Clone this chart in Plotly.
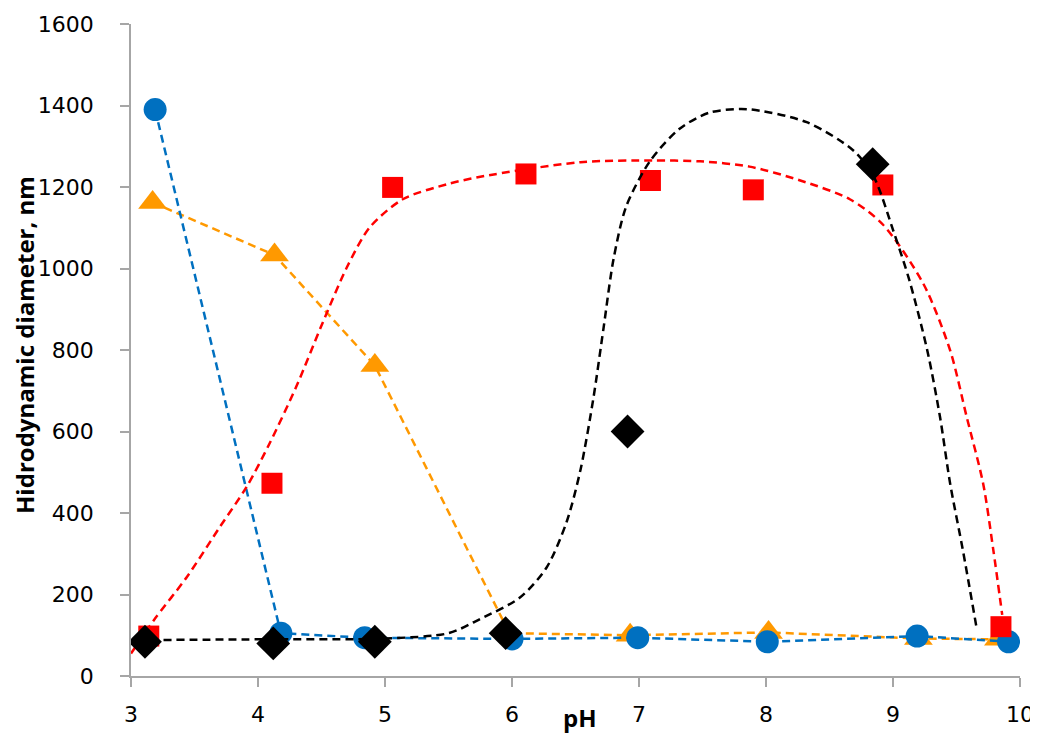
import plotly.graph_objects as go

# ---- data ----
blue_x = [3.19, 4.18, 4.84, 6.00, 6.99, 8.01, 9.19, 9.91]
blue_y = [1390, 105, 94, 91, 94, 84, 98, 84]

orange_x = [3.17, 4.13, 4.92, 5.98, 6.93, 8.02, 9.20, 9.83]
orange_y = [1162, 1033, 762, 105, 100, 107, 92, 90]

red_x = [3.14, 4.11, 5.06, 6.11, 7.09, 7.90, 8.92, 9.85]
red_y = [98, 473, 1199, 1232, 1216, 1193, 1205, 121]

black_x = [3.11, 4.12, 4.92, 5.95, 6.91, 8.84]
black_y = [84, 80, 84, 105, 600, 1256]

# trend curves
red_fit_x = [3.0, 3.18, 3.44, 3.70, 3.91, 4.09, 4.30, 4.50, 4.70, 4.88, 5.14, 5.49,
             5.75, 6.54, 7.11, 7.48, 7.87, 8.27, 8.66, 8.92, 9.24, 9.45, 9.58, 9.71,
             9.79, 9.86]
red_fit_y = [55, 137, 243, 366, 464, 570, 709, 860, 1003, 1101, 1170, 1207,
             1225, 1261, 1265, 1263, 1250, 1216, 1170, 1108, 962, 799, 636, 472,
             309, 150]

black_fit_x = [3.05, 4.0, 5.0, 5.5, 5.75, 6.06, 6.27, 6.43, 6.54, 6.64, 6.72, 6.80,
               6.90, 7.09, 7.32, 7.55, 7.85, 8.32, 8.69, 8.85, 9.0, 9.13, 9.27,
               9.37, 9.45, 9.55, 9.66]
black_fit_y = [88, 90, 92, 105, 140, 192, 265, 378, 507, 680, 852, 1024,
               1153, 1265, 1343, 1382, 1391, 1359, 1289, 1224, 1095, 970, 799,
               636, 472, 309, 115]

x_ticks = [3, 4, 5, 6, 7, 8, 9, 10]
y_ticks = [0, 200, 400, 600, 800, 1000, 1200, 1400, 1600]

BLUE = "#0070C0"
ORANGE = "#FF9900"
RED = "#FF0000"
BLACK = "#000000"
DASH = "8px,5px"

fig = go.Figure()

fig.add_trace(go.Scatter(x=orange_x, y=orange_y, mode="lines+markers",
                         line=dict(color=ORANGE, width=2.5, dash=DASH),
                         marker=dict(symbol="triangle-up", size=25, color=ORANGE)))
fig.add_trace(go.Scatter(x=blue_x, y=blue_y, mode="lines+markers",
                         line=dict(color=BLUE, width=2.5, dash=DASH),
                         marker=dict(symbol="circle", size=23, color=BLUE)))
fig.add_trace(go.Scatter(x=red_fit_x, y=red_fit_y, mode="lines",
                         line=dict(color=RED, width=2.5, dash=DASH, shape="spline", smoothing=0.8)))
fig.add_trace(go.Scatter(x=red_x, y=red_y, mode="markers",
                         marker=dict(symbol="square", size=21, color=RED)))
fig.add_trace(go.Scatter(x=black_fit_x, y=black_fit_y, mode="lines",
                         line=dict(color=BLACK, width=2.5, dash=DASH, shape="spline", smoothing=0.8)))
fig.add_trace(go.Scatter(x=black_x, y=black_y, mode="markers",
                         marker=dict(symbol="diamond", size=26, color=BLACK)))

axis_col = "#A6A6A6"
tick_font = dict(family="'DejaVu Sans', sans-serif", size=22, color="black")
title_font = dict(family="'Open Sans', sans-serif", size=24, color="black")

# page body has an 8px margin; size the figure so the plot lands where the reference has it
fig.update_layout(
    width=1030, height=727,
    margin=dict(l=123, r=18, t=16, b=59),
    plot_bgcolor="white", paper_bgcolor="white",
    showlegend=False,
    xaxis=dict(range=[3, 10], tickvals=x_ticks, ticktext=[str(v) for v in x_ticks],
               showgrid=False, zeroline=False, showline=True, linecolor=axis_col,
               linewidth=1.5, ticks="outside", ticklen=9, tickcolor=axis_col,
               tickwidth=1.5, ticklabelstandoff=9, automargin=False,
               tickfont=tick_font),
    yaxis=dict(range=[0, 1600], tickvals=y_ticks, ticktext=[str(v) for v in y_ticks],
               showgrid=False, zeroline=False, showline=True, linecolor=axis_col,
               linewidth=1.5, ticks="outside", ticklen=9, tickcolor=axis_col,
               tickwidth=1.5, ticklabelstandoff=22, automargin=False,
               tickfont=tick_font),
    annotations=[
        dict(text="<b>pH</b>", xref="paper", yref="paper", x=0.505, y=-0.064,
             xanchor="center", yanchor="middle", showarrow=False,
             font=title_font),
        dict(text="<b>Hidrodynamic diameter, nm</b>", xref="paper", yref="paper",
             x=-0.119, y=0.508, xanchor="center", yanchor="middle", textangle=-90,
             showarrow=False, font=title_font),
    ],
)

fig.write_html("out.html")
